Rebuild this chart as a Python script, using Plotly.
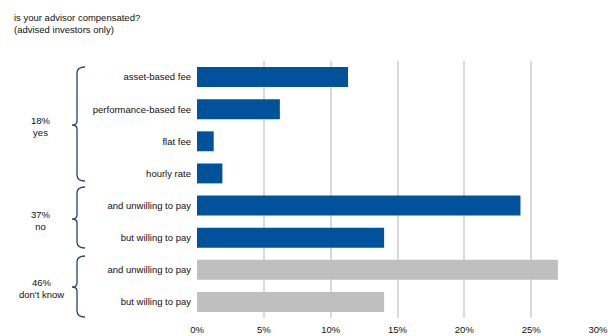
import plotly.graph_objects as go

categories = ["asset-based fee", "performance-based fee", "flat fee", "hourly rate",
              "and unwilling to pay", "but willing to pay",
              "and unwilling to pay", "but willing to pay"]
values = [11.3, 6.2, 1.25, 1.9, 24.2, 14.0, 27.0, 14.0]
groups = ["yes", "yes", "yes", "yes", "no", "no", "dk", "dk"]
group_labels = [("18%", "yes"), ("37%", "no"), ("46%", "don't know")]
tick_vals = [0, 5, 10, 15, 20, 25, 30]
tick_text = ["0%", "5%", "10%", "15%", "20%", "25%", "30%"]

BLUE = "#00529b"
GRAY = "#bfbfbf"
colors = [GRAY if g == "dk" else BLUE for g in groups]

W, H = 608, 336
L, R, T, B = 197, 10, 61, 18
PW, PH = W - L - R, H - T - B

def px(x):
    return (x - L) / PW

def py(y):
    return 1 - (y - T) / PH

FONT = "Liberation Sans"
FS = 9.5

fig = go.Figure()
fig.add_trace(go.Bar(
    x=values, y=list(range(len(categories))), orientation="h",
    marker=dict(color=colors, line=dict(width=0)),
    width=0.62, hoverinfo="x",
))

shapes = []
braces = [(67, 181, 125), (187, 248, 219), (256, 317, 287)]
for y0, y1, ym in braces:
    xv, xt, xe = 77, 72, 85
    pts = [
        f"M {px(xe)},{py(y0)}",
        f"Q {px(xv)},{py(y0)} {px(xv)},{py(y0+6)}",
        f"L {px(xv)},{py(ym-4)}",
        f"Q {px(xv)},{py(ym)} {px(xt)},{py(ym)}",
        f"Q {px(xv)},{py(ym)} {px(xv)},{py(ym+4)}",
        f"L {px(xv)},{py(y1-6)}",
        f"Q {px(xv)},{py(y1)} {px(xe)},{py(y1)}",
    ]
    shapes.append(dict(type="path", path=" ".join(pts), xref="paper", yref="paper",
                       line=dict(color="#26426f", width=1.3)))

annotations = []
for (pct, lab), (y0, y1, ym) in zip(group_labels, braces):
    annotations.append(dict(text=f"{pct}<br>{lab}", x=px(41), y=py(ym + 1), xref="paper", yref="paper",
                            showarrow=False, xanchor="center", yanchor="middle",
                            font=dict(family=FONT, size=FS, color="#111")))

annotations.append(dict(text="is your advisor compensated?<br>(advised investors only)",
                        x=px(12), y=py(10), xref="paper", yref="paper", showarrow=False,
                        xanchor="left", yanchor="top", align="left",
                        font=dict(family=FONT, size=FS, color="#111")))

fig.update_layout(
    width=W, height=H,
    margin=dict(l=L, r=R, t=T, b=B, pad=0, autoexpand=False),
    plot_bgcolor="white", paper_bgcolor="white",
    showlegend=False,
    shapes=shapes, annotations=annotations,
    font=dict(family=FONT, size=FS, color="#111"),
    xaxis=dict(range=[0, 30], tickvals=tick_vals, ticktext=tick_text, automargin=False,
               ticklabeloverflow="allow",
               showgrid=True, gridcolor="#d9d9d9", gridwidth=1.5,
               zeroline=False, showline=False, ticks="", ticklabelstandoff=4,
               tickfont=dict(family=FONT, size=FS, color="#111")),
    yaxis=dict(tickvals=list(range(len(categories))), ticktext=categories, automargin=False,
               range=[len(categories) - 0.5, -0.5], showgrid=False, zeroline=False,
               showline=False, ticks="", ticklabelstandoff=5,
               tickfont=dict(family=FONT, size=FS, color="#111")),
)

fig.write_html("out.html", config={"displayModeBar": False},
               post_script="document.body.style.margin='0';document.body.style.overflow='hidden';")
